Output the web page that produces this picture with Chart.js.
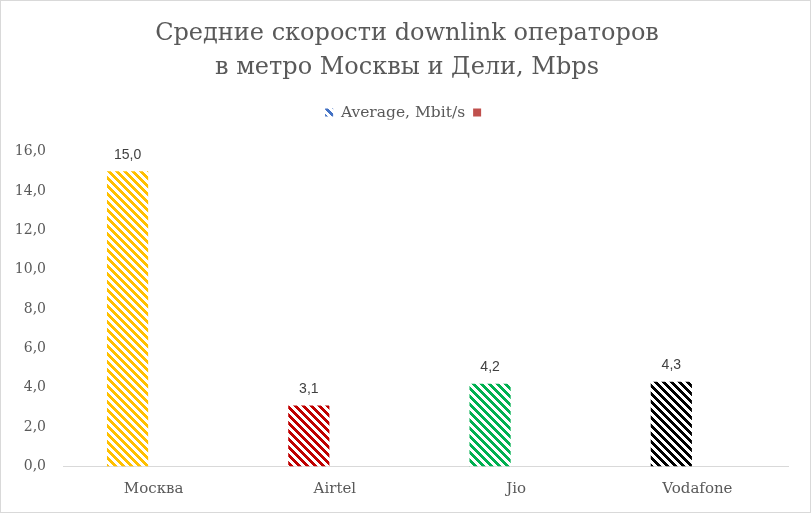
<!DOCTYPE html>
<html>
<head>
<meta charset="utf-8">
<script src="https://cdn.jsdelivr.net/npm/chart.js@4.4.1/dist/chart.umd.min.js"></script>
<style>
  html, body { margin: 0; padding: 0; background: #ffffff; }
  canvas { display: block; }
</style>
</head>
<body>
<canvas id="c" width="812" height="514"></canvas>
<script>
// ---- data ----
const categories = ['Москва', 'Airtel', 'Jio', 'Vodafone'];
const averageValues = [15.0, 3.1, 4.2, 4.3];
const seriesNames = ['Average, Mbit/s', ''];
const titleLines = ['Средние скорости downlink операторов', 'в метро Москвы и Дели, Mbps'];
const yMin = 0, yMax = 16, yStep = 2;

// ---- styles ----
const barColors = ['#FFC000', '#C00000', '#00B050', '#000000'];
const legendColor1 = '#4472C4';
const legendColor2 = '#C0504D';
const textColor = '#595959';
const serif = '"DejaVu Serif", serif';

function makePattern(color) {
  const p = document.createElement('canvas');
  p.width = 8; p.height = 8;
  const g = p.getContext('2d');
  g.fillStyle = '#ffffff';
  g.fillRect(0, 0, 8, 8);
  g.fillStyle = color;
  for (let y = 0; y < 8; y++) {
    for (let x = 0; x < 8; x++) {
      if ((((x - y) % 8) + 8) % 8 < 4) g.fillRect(x, y, 1, 1);
    }
  }
  return g.createPattern(p, 'repeat');
}

const ctx = document.getElementById('c').getContext('2d');
const barPatterns = barColors.map(makePattern);
const legendPattern = makePattern(legendColor1);

const frame = {
  id: 'frame',
  beforeDraw(chart) {
    const c = chart.ctx;
    c.save();
    c.fillStyle = '#ffffff';
    c.fillRect(0, 0, chart.width, chart.height);
    c.restore();
  },
  afterDraw(chart) {
    const c = chart.ctx;
    c.save();
    c.strokeStyle = '#d9d9d9';
    c.lineWidth = 1;
    c.strokeRect(0.5, 0.5, 810, 512);
    c.restore();
  }
};

const valueLabels = {
  id: 'valueLabels',
  afterDatasetsDraw(chart) {
    const c = chart.ctx;
    const meta = chart.getDatasetMeta(0);
    c.save();
    c.font = '14px "Liberation Sans", Arial, sans-serif';
    c.fillStyle = '#404040';
    c.textAlign = 'center';
    c.textBaseline = 'middle';
    meta.data.forEach((bar, i) => {
      const v = chart.data.datasets[0].data[i];
      c.fillText(v.toFixed(1).replace('.', ','), bar.x, bar.y - 16.5);
    });
    c.restore();
  }
};

new Chart(ctx, {
  type: 'bar',
  data: {
    labels: categories,
    datasets: [
      {
        label: seriesNames[0],
        data: averageValues,
        backgroundColor: barPatterns,
        borderWidth: 0
      },
      {
        label: seriesNames[1],
        data: categories.map(() => null),
        backgroundColor: legendColor2,
        borderWidth: 0
      }
    ]
  },
  options: {
    responsive: false,
    animation: false,
    devicePixelRatio: 1,
    categoryPercentage: 0.575,
    barPercentage: 0.79,
    layout: { padding: { left: 2, right: 0, top: 0, bottom: 0 } },
    plugins: {
      title: {
        display: true,
        text: titleLines,
        color: textColor,
        font: { family: serif, size: 24, weight: 'normal', lineHeight: 1.4375 },
        padding: { top: 16.5, bottom: 11.25 }
      },
      subtitle: {
        display: true,
        text: '',
        weight: 500,
        font: { size: 21.25, lineHeight: 1 },
        padding: 0
      },
      legend: {
        display: true,
        position: 'top',
        labels: {
          color: textColor,
          font: { family: serif, size: 15.5 },
          boxWidth: 8,
          boxHeight: 8,
          padding: 8,
          generateLabels(chart) {
            const items = Chart.defaults.plugins.legend.labels.generateLabels(chart);
            items.forEach((it, i) => {
              it.fillStyle = i === 0 ? legendPattern : legendColor2;
              it.lineWidth = 0;
              it.strokeStyle = 'rgba(0,0,0,0)';
            });
            return items;
          }
        }
      },
      tooltip: { enabled: false }
    },
    scales: {
      x: {
        grid: { display: false, drawTicks: false },
        border: { display: true, color: '#d9d9d9', width: 1 },
        ticks: {
          color: textColor,
          font: { family: serif, size: 15 },
          padding: 14
        },
        afterFit(scale) { scale.height = 47.5; }
      },
      y: {
        min: yMin,
        max: yMax,
        grid: { display: false, drawTicks: false },
        border: { display: false },
        ticks: {
          stepSize: yStep,
          color: textColor,
          font: { family: serif, size: 14 },
          padding: 17,
          callback: (v) => Number(v).toFixed(1).replace('.', ',')
        },
        afterFit(scale) { scale.width = 61; }
      },
      yRightSpace: {
        type: 'linear',
        position: 'right',
        display: true,
        grid: { display: false, drawTicks: false },
        border: { display: false },
        ticks: { display: false },
        afterFit(scale) { scale.width = 24; }
      }
    }
  },
  plugins: [frame, valueLabels]
});
</script>
</body>
</html>
